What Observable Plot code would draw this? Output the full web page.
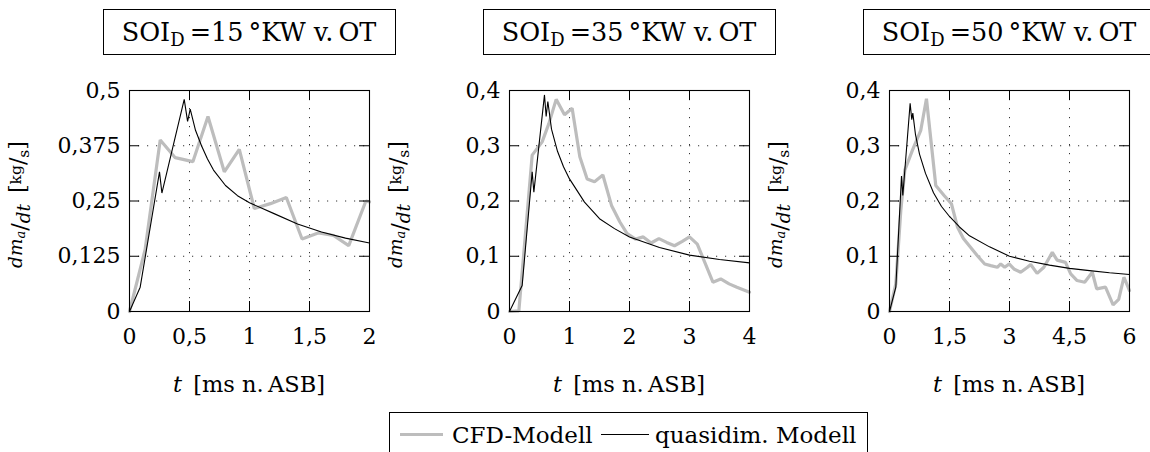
<!DOCTYPE html>
<html>
<head>
<meta charset="utf-8">
<script src="https://cdn.jsdelivr.net/npm/d3@7"></script>
<script src="https://cdn.jsdelivr.net/npm/@observablehq/plot@0.6"></script>
<style>
  html, body { margin: 0; padding: 0; background: #fff; }
  #root { position: relative; width: 1150px; height: 452px; overflow: hidden; background: #fff;
          font-family: "DejaVu Serif", serif; color: #000; }
  .panel { position: absolute; top: 0; }
  .title { position: absolute; top: 9px; width: 291px; height: 44px; border: 1.3px solid #000;
           font-size: 25.5px; line-height: 44px; text-align: center; white-space: nowrap; box-sizing: content-box; }
  .title sub { font-size: 18px; vertical-align: -5px; line-height: 0; }
  #legend { position: absolute; left: 389px; top: 412px; width: 477px; height: 50px; border: 1.3px solid #000;
            font-size: 23px; white-space: nowrap; }
  #legend .item { position: absolute; top: 6px; line-height: 32px; }
  #legend .sw { position: absolute; }
</style>
</head>
<body>
<div id="root"></div>
<script>
// ---- data (t in ms n. ASB, dm_a/dt in kg/s) ----
const soiValues = ["15", "35", "50"];
const xTicks15 = [0, 0.5, 1, 1.5, 2];
const yTicks15 = [0, 0.125, 0.25, 0.375, 0.5];
const xTicks35 = [0, 1, 2, 3, 4];
const yTicks35 = [0, 0.1, 0.2, 0.3, 0.4];
const xTicks50 = [0, 1.5, 3, 4.5, 6];
const yTicks50 = [0, 0.1, 0.2, 0.3, 0.4];

const cfd15 = [[0,0],[0.13,0.14],[0.256,0.388],[0.381,0.348],[0.528,0.339],[0.654,0.441],[0.79,0.316],[0.915,0.367],[1.04,0.233],[1.174,0.244],[1.307,0.258],[1.438,0.164],[1.577,0.178],[1.70,0.172],[1.827,0.149],[1.97,0.25],[2.0,0.248]];
const quasi15 = [[0,0],[0.089,0.055],[0.25,0.316],[0.27,0.268],[0.456,0.48],[0.484,0.43],[0.506,0.458],[0.55,0.41],[0.6,0.375],[0.65,0.345],[0.7,0.32],[0.8,0.285],[0.9,0.262],[1.0,0.246],[1.2,0.222],[1.4,0.198],[1.6,0.18],[1.8,0.166],[2.0,0.155]];

const cfd35 = [[0,0],[0.156,0.001],[0.378,0.283],[0.544,0.307],[0.656,0.34],[0.778,0.384],[0.917,0.356],[1.044,0.368],[1.172,0.28],[1.294,0.24],[1.417,0.235],[1.556,0.247],[1.7,0.192],[1.84,0.162],[1.96,0.141],[2.1,0.131],[2.23,0.135],[2.36,0.124],[2.49,0.132],[2.62,0.125],[2.75,0.119],[2.88,0.127],[3.0,0.135],[3.13,0.122],[3.39,0.053],[3.52,0.059],[3.66,0.05],[3.79,0.044],[4.0,0.035]];
const quasi35 = [[0,0],[0.211,0.047],[0.378,0.253],[0.406,0.216],[0.583,0.392],[0.611,0.353],[0.639,0.38],[0.7,0.33],[0.8,0.29],[0.9,0.262],[1.0,0.24],[1.25,0.198],[1.5,0.168],[1.75,0.15],[2.0,0.135],[2.5,0.116],[3.0,0.102],[3.5,0.094],[4.0,0.088]];

const cfd50 = [[0,0],[0.158,0.05],[0.283,0.183],[0.383,0.256],[0.574,0.292],[0.782,0.328],[0.924,0.385],[1.157,0.228],[1.365,0.21],[1.548,0.195],[1.698,0.153],[1.847,0.132],[2.03,0.116],[2.197,0.101],[2.38,0.086],[2.53,0.083],[2.696,0.08],[2.78,0.086],[2.88,0.08],[2.99,0.086],[3.11,0.077],[3.28,0.071],[3.45,0.08],[3.53,0.085],[3.69,0.069],[3.86,0.08],[4.07,0.107],[4.19,0.093],[4.4,0.089],[4.53,0.068],[4.69,0.056],[4.88,0.053],[5.07,0.071],[5.18,0.041],[5.4,0.044],[5.59,0.012],[5.73,0.022],[5.86,0.062],[6.0,0.038]];
const quasi50 = [[0,0],[0.158,0.044],[0.3,0.245],[0.333,0.21],[0.516,0.377],[0.557,0.347],[0.583,0.359],[0.65,0.32],[0.75,0.285],[0.9,0.25],[1.1,0.215],[1.3,0.19],[1.5,0.172],[1.75,0.153],[2.0,0.137],[2.5,0.117],[3.0,0.1],[3.5,0.091],[4.0,0.084],[4.5,0.078],[5.0,0.074],[5.5,0.07],[6.0,0.067]];

const legendLabels = ["CFD-Modell", "quasidim. Modell"];

// ---- layout ----
const FONT = "'DejaVu Serif', serif";
const PANEL_W = 380, PANEL_H = 400;
const M = {top: 90, right: 11, bottom: 89, left: 129};
const PW = PANEL_W - M.left - M.right;   // plot area width
const PH = PANEL_H - M.top - M.bottom;   // plot area height
const TICK = 10;
const CFD_COLOR = "#bdbdbd";

const panels = [
  {soi: soiValues[0], xTicks: xTicks15, yTicks: yTicks15, cfd: cfd15, quasi: quasi15},
  {soi: soiValues[1], xTicks: xTicks35, yTicks: yTicks35, cfd: cfd35, quasi: quasi35},
  {soi: soiValues[2], xTicks: xTicks50, yTicks: yTicks50, cfd: cfd50, quasi: quasi50}
];

const fmt = d => String(d).replace(".", ",");

function yLabel(index, scales, values, dim) {
  const cx = 25, cy = dim.marginTop + (dim.height - dim.marginTop - dim.marginBottom) / 2 + 4;
  const t = d3.create("svg:text")
    .attr("transform", `translate(${cx},${cy}) rotate(-90)`)
    .attr("text-anchor", "middle")
    .attr("fill", "#000")
    .attr("font-family", FONT);
  const parts = [
    {s: "dm", size: 18.5, dy: -3, it: true},
    {s: "a", size: 13, dy: 3, it: true},
    {s: "/", size: 22, dy: 2},
    {s: "dt", size: 18.5, dy: 3, it: true},
    {s: "\u2002[", size: 22, dy: -5},
    {s: "kg", size: 15.5, dy: -4},
    {s: "/", size: 22, dy: 4},
    {s: "s", size: 15.5, dy: 4},
    {s: "]", size: 22, dy: -4}
  ];
  for (const p of parts) {
    t.append("tspan").attr("font-size", p.size).attr("dy", p.dy)
      .attr("font-style", p.it ? "italic" : "normal").text(p.s);
  }
  return t.node();
}

function xLabel(index, scales, values, dim) {
  const cx = dim.marginLeft + (dim.width - dim.marginLeft - dim.marginRight) / 2;
  const t = d3.create("svg:text")
    .attr("x", cx).attr("y", 392)
    .attr("text-anchor", "middle")
    .attr("fill", "#000")
    .attr("font-size", 22.5)
    .attr("font-family", FONT);
  t.append("tspan").attr("font-style", "italic").text("t");
  t.append("tspan").text("\u2002[ms n.\u2009ASB]");
  return t.node();
}

const root = document.getElementById("root");

panels.forEach((p, i) => {
  const xd = [p.xTicks[0], p.xTicks[p.xTicks.length - 1]];
  const yd = [p.yTicks[0], p.yTicks[p.yTicks.length - 1]];
  const chart = Plot.plot({
    width: PANEL_W, height: PANEL_H,
    marginTop: M.top, marginRight: M.right, marginBottom: M.bottom, marginLeft: M.left,
    style: {fontFamily: FONT, fontSize: "22px", background: "transparent", color: "#000", overflow: "visible"},
    x: {domain: xd},
    y: {domain: yd},
    marks: [
      Plot.gridX(p.xTicks, {stroke: "#333", strokeOpacity: 1, strokeWidth: 1, strokeDasharray: "1.2,7.8"}),
      Plot.gridY(p.yTicks, {stroke: "#333", strokeOpacity: 1, strokeWidth: 1, strokeDasharray: "1.2,7.8"}),
      Plot.line(p.cfd, {stroke: CFD_COLOR, strokeWidth: 3.2, strokeLinejoin: "miter"}),
      Plot.line(p.quasi, {stroke: "#000", strokeWidth: 1.1, strokeLinejoin: "miter"}),
      Plot.tickX(p.xTicks, {x: d => d, stroke: "#000", insetTop: PH - TICK}),
      Plot.tickX(p.xTicks, {x: d => d, stroke: "#000", insetBottom: PH - TICK}),
      Plot.tickY(p.yTicks, {y: d => d, stroke: "#000", insetRight: PW - TICK}),
      Plot.tickY(p.yTicks, {y: d => d, stroke: "#000", insetLeft: PW - TICK}),
      Plot.frame({stroke: "#000", strokeWidth: 1.1}),
      Plot.axisX(p.xTicks, {tickSize: 0, tickPadding: 17, tickFormat: fmt, fontSize: 22, label: null}),
      Plot.axisY(p.yTicks, {tickSize: 0, tickPadding: 9, tickFormat: fmt, fontSize: 22, label: null}),
      yLabel,
      xLabel
    ]
  });
  chart.classList.add("panel");
  chart.style.left = (i * PANEL_W) + "px";
  root.appendChild(chart);

  const title = document.createElement("div");
  title.className = "title";
  const centre = i * PANEL_W + M.left + PW / 2;
  title.style.left = (centre - 146.5) + "px";
  title.innerHTML = `SOI<sub>D</sub>\u2009=${p.soi}\u2009°KW v.\u2009OT`;
  root.appendChild(title);
});

// legend
const legend = document.createElement("div");
legend.id = "legend";
legend.innerHTML = `
  <span class="sw" style="left:10px;top:20px;width:43px;height:3px;background:${CFD_COLOR}"></span>
  <span class="item" style="left:62px">${legendLabels[0]}</span>
  <span class="sw" style="left:211px;top:21px;width:48px;height:1.2px;background:#000"></span>
  <span class="item" style="left:265px">${legendLabels[1]}</span>`;
root.appendChild(legend);
</script>
</body>
</html>
